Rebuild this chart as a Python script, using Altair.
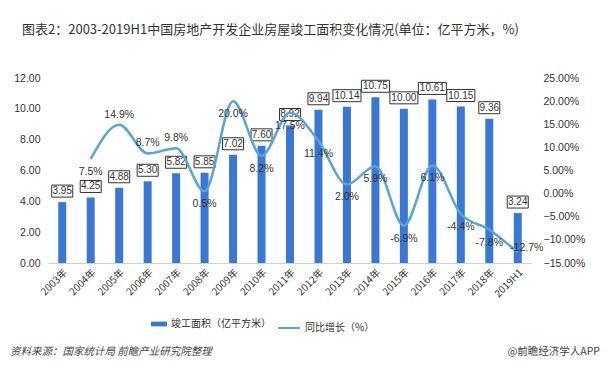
import altair as alt
import pandas as pd

# ---------------- data ----------------
years = ["2003年", "2004年", "2005年", "2006年", "2007年", "2008年", "2009年", "2010年",
         "2011年", "2012年", "2013年", "2014年", "2015年", "2016年", "2017年", "2018年", "2019H1"]
area = [3.95, 4.25, 4.88, 5.30, 5.82, 5.85, 7.02, 7.60, 8.92, 9.94, 10.14, 10.75,
        10.00, 10.61, 10.15, 9.36, 3.24]
growth = [None, 7.5, 14.9, 8.7, 9.8, 0.5, 20.0, 8.2, 17.5, 11.4, 2.0, 5.9,
          -6.9, 6.1, -4.4, -7.8, -12.7]
label_side = [None, "below", "above", "above", "above", "below", "below", "below",
              "below", "below", "below", "below", "below", "below", "below", "below", "right"]
left_ticks = [0, 2, 4, 6, 8, 10, 12]
right_ticks = [-15, -10, -5, 0, 5, 10, 15, 20, 25]

bar_name = "竣工面积（亿平方米）"
line_name = "同比增长（%）"
title_text = "图表2：2003-2019H1中国房地产开发企业房屋竣工面积变化情况(单位：亿平方米，%)"
source_text = "资料来源：国家统计局 前瞻产业研究院整理"
brand_text = "@前瞻经济学人APP"

df = pd.DataFrame({
    "year": years,
    "area": area,
    "growth": growth,
    "side": label_side,
})
df["area_lbl"] = [f"{v:.2f}" for v in area]
df["g_lbl"] = [("" if g is None else f"{g:.1f}%") for g in growth]
df["nchar"] = df["area_lbl"].str.len()
df["s1"] = bar_name
df["s2"] = line_name

BAR = "#3a78d4"
LINE = "#5aa5d5"
TXT = "#333333"
FONT = "Liberation Sans, Noto Sans CJK SC"
CJK = "Noto Sans CJK SC"

W, H = 484, 185

x = alt.X("year:N", sort=years, title=None,
          scale=alt.Scale(paddingInner=0.7, paddingOuter=0.35),
          axis=alt.Axis(labelAngle=-45, labelFontSize=10, labelColor=TXT, labelFont=CJK,
                        ticks=False, domainColor="#d0d0d0", labelPadding=4, labelOverlap=False))

yl = alt.Y("area:Q", scale=alt.Scale(domain=[0, 12]), title=None,
           axis=alt.Axis(values=left_ticks, format=".2f", grid=False, ticks=False,
                         domain=False, labelFontSize=10.5, labelColor=TXT, labelPadding=8,
                         labelFont=FONT, labelOverlap=False))
yr = alt.Y("growth:Q", scale=alt.Scale(domain=[-15, 25]), title=None,
           axis=alt.Axis(orient="right", values=right_ticks,
                         labelExpr="format(datum.value, '.2f') + '%'", grid=False, ticks=False,
                         domain=False, labelFontSize=10.5, labelColor=TXT, labelPadding=11,
                         labelFont=FONT, labelOverlap=False))

bars = alt.Chart(df).mark_bar(width=8).encode(
    x=x, y=yl,
    color=alt.Color("s1:N", scale=alt.Scale(domain=[bar_name], range=[BAR]), title=None,
                    legend=alt.Legend(orient="none", legendX=103, legendY=238,
                                      symbolType="M-1,-0.3H1V0.3H-1Z", symbolSize=256,
                                      symbolStrokeWidth=0, labelFontSize=10, labelColor=TXT,
                                      labelFont=CJK, padding=0)),
)

box4 = alt.Chart(df).transform_filter("datum.nchar == 4").mark_point(
    shape="M-1,-0.571H1V0.571H-1Z", size=441, fill="white", stroke="#333333",
    strokeWidth=1, opacity=1, fillOpacity=1, yOffset=-11
).encode(x=x, y=yl)

box5 = alt.Chart(df).transform_filter("datum.nchar == 5").mark_point(
    shape="M-1,-0.4286H1V0.4286H-1Z", size=784, fill="white", stroke="#333333",
    strokeWidth=1, opacity=1, fillOpacity=1, yOffset=-11
).encode(x=x, y=yl)

bar_txt = alt.Chart(df).mark_text(fontSize=10, color=TXT, font=FONT, baseline="middle", dy=-11).encode(
    x=x, y=yl, text="area_lbl:N")

left = alt.layer(bars, box4, box5, bar_txt)

line = alt.Chart(df).transform_filter("isValid(datum.growth)").mark_line(
    interpolate="monotone", strokeWidth=2.5).encode(
    x=x, y=yr,
    stroke=alt.Stroke("s2:N", scale=alt.Scale(domain=[line_name], range=[LINE]), title=None,
                      legend=alt.Legend(orient="none", legendX=229, legendY=238,
                                        symbolType="stroke", symbolSize=484, symbolStrokeWidth=2,
                                        labelFontSize=10, labelColor=TXT, labelFont=CJK, padding=0)),
)

def pct_layer(side, dx, dy):
    return alt.Chart(df).transform_filter(f"datum.side == '{side}'").mark_text(
        fontSize=10.5, color=TXT, font=FONT, baseline="middle", dx=dx, dy=dy).encode(
        x=x, y=yr, text="g_lbl:N")

right = alt.layer(line, pct_layer("above", 0, -10), pct_layer("below", 0, 13),
                  pct_layer("right", 9, -4))

one = alt.Data(values=[{"a": 1}])
title = alt.Chart(one).mark_text(text=title_text, fontSize=13, color=TXT, font=CJK,
                                 align="left", baseline="middle").encode(
    x=alt.value(-26), y=alt.value(-48))
source = alt.Chart(one).mark_text(text=source_text, fontSize=10.5, color="#444444", font=CJK,
                                  fontStyle="italic", align="left", baseline="middle").encode(
    x=alt.value(-38), y=alt.value(274))
brand = alt.Chart(one).mark_text(text=brand_text, fontSize=10.5, color="#444444", font=CJK,
                                 align="right", baseline="middle").encode(
    x=alt.value(552), y=alt.value(274))

chart = alt.layer(left, right, title, source, brand).resolve_scale(
    y="independent", color="independent", stroke="independent"
).properties(
    width=W, height=H,
    autosize=alt.AutoSizeParams(type="none"),
    padding={"left": 40, "top": 70, "right": 70, "bottom": 106},
    background="white",
).configure_view(stroke=None)

chart.save("out.html", embed_options={"renderer": "svg", "actions": False})
